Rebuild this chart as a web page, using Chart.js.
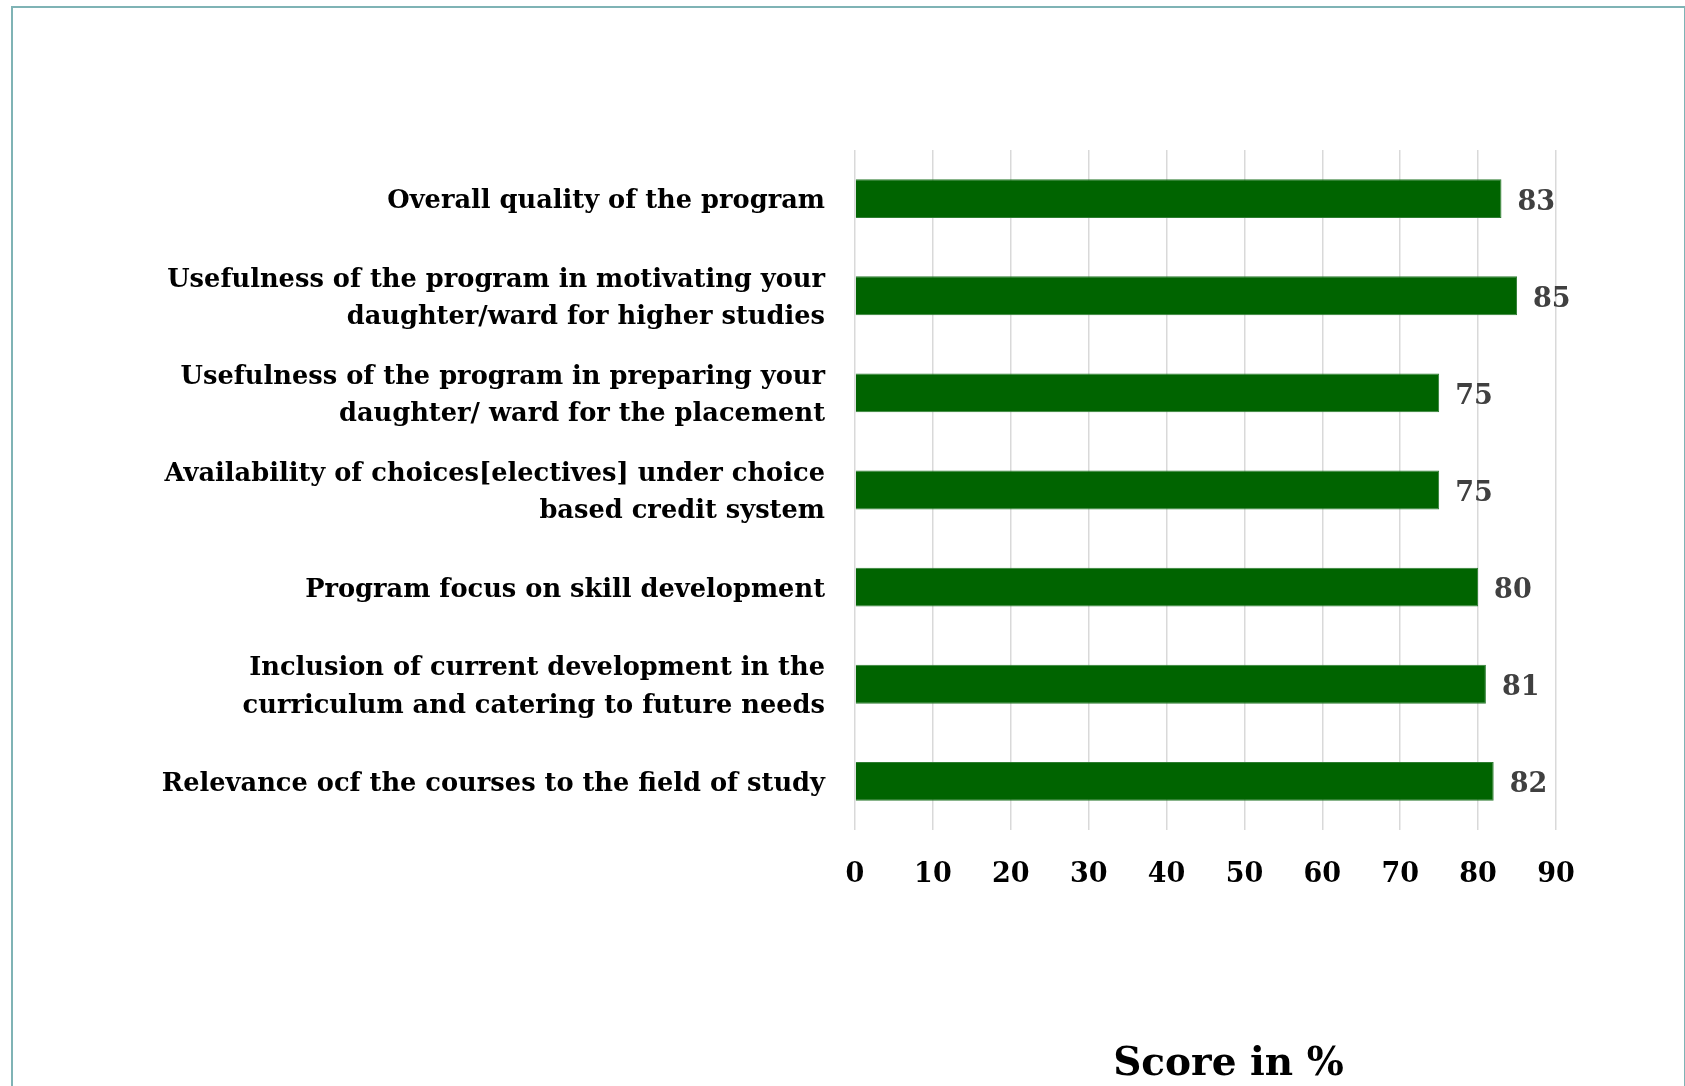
<!DOCTYPE html>
<html>
<head>
<meta charset="utf-8">
<script src="https://cdn.jsdelivr.net/npm/chart.js@4/dist/chart.umd.min.js"></script>
<style>
    html, body { margin: 0; padding: 0; background: #fff; overflow: hidden; }
    #frame {
        position: absolute; left: 11px; top: 6px; width: 1671px; height: 1100px;
        border: 2px solid #7fb3b5; border-bottom: none;
    }
    #wrap { position: absolute; left: 0; top: 0; width: 1685px; height: 1086px; }
</style>
</head>
<body>
<div id="frame"></div>
<div id="wrap"><canvas id="scoreChart" width="1685" height="1086"></canvas></div>
<script>
// Datos del gráfico
const categories = [
    ['Overall quality of the program'],
    ['Usefulness of the program in motivating your', 'daughter/ward for higher studies'],
    ['Usefulness of the program in preparing your', 'daughter/ ward for the placement'],
    ['Availability of choices[electives] under choice', 'based credit system'],
    ['Program focus on skill development'],
    ['Inclusion of current development in the', 'curriculum and catering to future needs'],
    ['Relevance ocf the courses to the field of study']
];
const scores = [83, 85, 75, 75, 80, 81, 82];
const xTicks = [0, 10, 20, 30, 40, 50, 60, 70, 80, 90];
const axisTitle = 'Score in %';

const FONT = "'DejaVu Serif', serif";

document.addEventListener('DOMContentLoaded', function() {
    // Etiquetas de valor a la derecha de cada barra
    const valueLabels = {
        id: 'valueLabels',
        afterDatasetsDraw(chart) {
            const ctx = chart.ctx;
            const meta = chart.getDatasetMeta(0);
            ctx.save();
            ctx.font = 'bold 27px ' + FONT;
            ctx.fillStyle = '#404040';
            ctx.textAlign = 'left';
            ctx.textBaseline = 'middle';
            meta.data.forEach((bar, i) => {
                ctx.fillText(String(scores[i]), bar.x + 16, bar.y + 4);
            });
            ctx.restore();
        }
    };

    // Título del eje X (un poco desplazado a la derecha, como en el original)
    const axisTitlePlugin = {
        id: 'axisTitle',
        afterDraw(chart) {
            const ctx = chart.ctx;
            const area = chart.chartArea;
            ctx.save();
            ctx.font = 'bold 39px ' + FONT;
            ctx.fillStyle = '#000';
            ctx.textAlign = 'center';
            ctx.textBaseline = 'middle';
            ctx.fillText(axisTitle, (area.left + area.right) / 2 + 23, 1065);
            ctx.restore();
        }
    };

    const ctx = document.getElementById('scoreChart').getContext('2d');
    new Chart(ctx, {
        type: 'bar',
        data: {
            labels: categories,
            datasets: [{
                data: scores,
                backgroundColor: '#006400',
                borderColor: '#2e7d32',
                borderWidth: 1,
                categoryPercentage: 1,
                barPercentage: 0.4
            }]
        },
        options: {
            indexAxis: 'y',
            responsive: false,
            animation: false,
            layout: { padding: { top: 150, right: 129, left: 0, bottom: 0 } },
            plugins: {
                legend: { display: false },
                tooltip: { enabled: false }
            },
            scales: {
                x: {
                    min: 0,
                    max: 90,
                    afterBuildTicks: function(scale) {
                        scale.ticks = xTicks.map(v => ({ value: v }));
                    },
                    afterFit: function(scale) { scale.height = 256; },
                    grid: { color: '#d9d9d9', lineWidth: 1.5, drawTicks: false },
                    border: { display: false },
                    ticks: {
                        color: '#000',
                        padding: 29,
                        font: { family: FONT, weight: 'bold', size: 27 }
                    }
                },
                y: {
                    afterFit: function(scale) { scale.width = 855; },
                    grid: { display: false, drawTicks: false },
                    border: { display: false },
                    ticks: {
                        color: '#000',
                        padding: 30,
                        labelOffset: 3,
                        font: { family: FONT, weight: 'bold', size: 25.7, lineHeight: 1.46 }
                    }
                }
            }
        },
        plugins: [valueLabels, axisTitlePlugin]
    });
});
</script>
</body>
</html>
